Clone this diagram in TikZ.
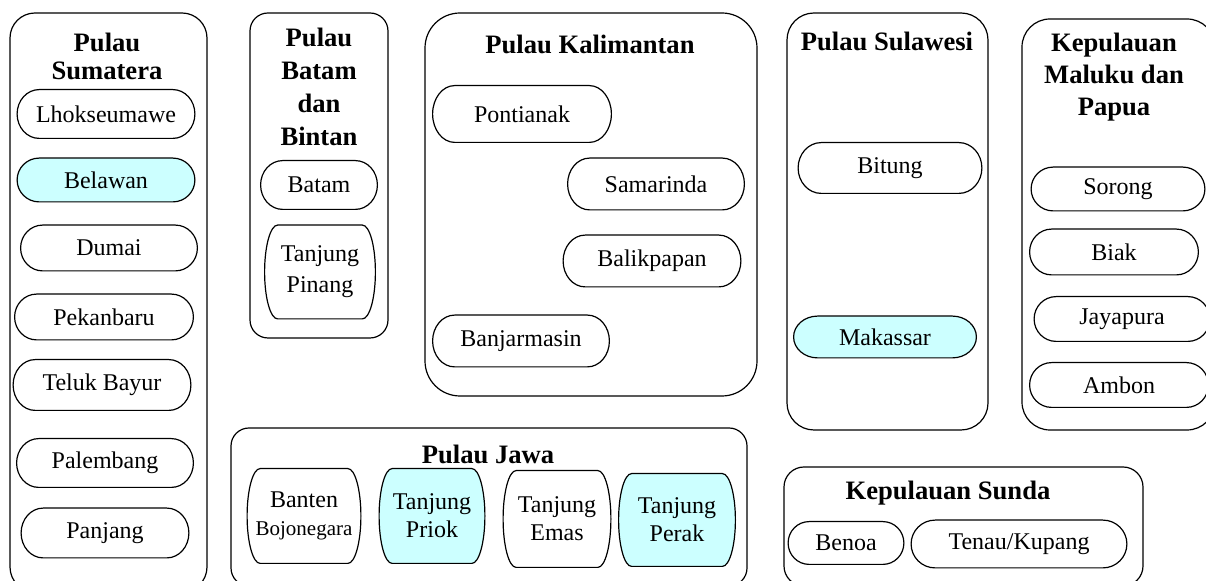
\documentclass[tikz,border=0pt]{standalone}
\usepackage{fontspec}
\setmainfont{Liberation Serif}
\usetikzlibrary{backgrounds,calc}
\definecolor{portcyan}{RGB}{204,255,255}

\tikzset{
	island/.style={draw, line width=0.6pt},
	port/.style={rectangle, inner sep=1pt, align=center, font=\fontsize{12}{14}\selectfont},
	psize/.style 2 args={minimum width=#1*0.5pt, minimum height=#2*0.5pt},
	rim/.style={line width=0.6pt},
	title/.style={font=\bfseries\fontsize{13.3}{16}\selectfont, align=center, inner sep=0pt},
}

\begin{document}
\begin{tikzpicture}[x=0.5pt, y=-0.5pt]
	\useasboundingbox (0,0) rectangle (1206,581);
	%% pulau (kotak besar)
	\draw[island, rounded corners=12.5pt] (10,13) rectangle (207,592);
	\draw[island, rounded corners=9pt] (250,13) rectangle (388,338);
	\draw[island, rounded corners=17.5pt] (425,13) rectangle (757,396);
	\draw[island, rounded corners=13.5pt] (787,13) rectangle (988,430);
	\draw[island, rounded corners=14pt] (1022,19) rectangle (1215,430);
	\draw[island, rounded corners=9pt] (231,428) rectangle (747,586);
	\draw[island, rounded corners=10pt] (784,467) rectangle (1143,586);
	%% sumatera
	\node[title, font=\bfseries\fontsize{13.3}{14}\selectfont] (s0) at (107,56) {Pulau\\Sumatera};
	\node[port, psize={177}{48}] (s1) at (106,114) {Lhokseumawe};
	\node[port, psize={177}{43}] (s2) at (106,180) {Belawan};
	\node[port, psize={176}{45}] (s3) at (109,248) {Dumai};
	\node[port, psize={178}{45}] (s4) at (104,317) {Pekanbaru};
	\node[port, psize={177}{50}] (s5) at (102,385) {Teluk Bayur};
	\node[port, psize={176}{48}] (s6) at (105,463) {Palembang};
	\node[port, psize={167}{49}] (s7) at (105,533) {Panjang};
	%% batam dan bintan
	\node[title, font=\bfseries\fontsize{13.3}{16.5}\selectfont] (b0) at (319,87) {Pulau\\Batam\\dan\\Bintan};
	\node[port, psize={116}{48}] (b1) at (319,185) {Batam};
	\node[port, psize={110}{93}, font=\fontsize{12}{15.5}\selectfont] (b2) at (320,272) {Tanjung\\Pinang};
	%% kalimantan
	\node[title] (k0) at (590,44) {Pulau Kalimantan};
	\node[port, psize={178}{56}] (k1) at (522,114) {Pontianak};
	\node[port, psize={176}{51}] (k2) at (656,184) {Samarinda};
	\node[port, psize={177}{51}] (k3) at (652,261) {Balikpapan};
	\node[port, psize={176}{51}] (k4) at (521,341) {Banjarmasin};
	%% sulawesi
	\node[title] (w0) at (887,41) {Pulau Sulawesi};
	\node[port, psize={183}{50}] (w1) at (890,168) {Bitung};
	\node[port, psize={182}{41}] (w2) at (885,337) {Makassar};
	%% maluku dan papua
	\node[title] (m0) at (1114,77) {Kepulauan\\Maluku dan\\Papua};
	\node[port, psize={173}{43}] (m1) at (1118,189) {Sorong};
	\node[port, psize={168}{45}] (m2) at (1114,252) {Biak};
	\node[port, psize={175}{44}] (m3) at (1122,319) {Jayapura};
	\node[port, psize={178}{44}] (m4) at (1119,385) {Ambon};
	%% jawa
	\node[title] (j0) at (488,454) {Pulau Jawa};
	\node[port, psize={113}{94}] (j1) at (304,516) {Banten\\{\fontsize{10.5}{13}\selectfont Bojonegara}};
	\node[port, psize={105}{94}] (j2) at (432,516) {Tanjung\\Priok};
	\node[port, psize={107}{96}] (j3) at (557,519) {Tanjung\\Emas};
	\node[port, psize={116}{92}] (j4) at (677,520) {Tanjung\\Perak};
	%% sunda
	\node[title] (n0) at (948,493) {Kepulauan Sunda};
	\node[port, psize={115}{42}] (n1) at (846,543) {Benoa};
	\node[port, psize={215}{47}] (n2) at (1019,544) {Tenau/Kupang};
	% bentuk pelabuhan (sisi melengkung)
	\begin{scope}[on background layer]
		\foreach \n/\c/\b in {s1/white/11pt, s2/portcyan/11pt, s3/white/11pt, s4/white/11pt,
			s5/white/11pt, s6/white/11pt, s7/white/11pt, b1/white/11pt, b2/white/6.5pt,
			k1/white/11pt, k2/white/11pt, k3/white/11pt, k4/white/11pt,
			w1/white/11.5pt, w2/portcyan/12pt, m1/white/11pt, m2/white/11pt, m3/white/11pt, m4/white/11pt,
			j1/white/6.5pt, j2/portcyan/6.5pt, j3/white/6.5pt, j4/portcyan/6.5pt,
			n1/white/10.5pt, n2/white/12pt}
		\filldraw[rim, fill=\c] ([xshift=\b]\n.north west) -- ([xshift=-\b]\n.north east)
			.. controls ([xshift=-0.448*\b]\n.north east) and ($(\n.east)!0.552!(\n.north east)$) .. (\n.east)
			.. controls ($(\n.east)!0.552!(\n.south east)$) and ([xshift=-0.448*\b]\n.south east) .. ([xshift=-\b]\n.south east)
			-- ([xshift=\b]\n.south west)
			.. controls ([xshift=0.448*\b]\n.south west) and ($(\n.west)!0.552!(\n.south west)$) .. (\n.west)
			.. controls ($(\n.west)!0.552!(\n.north west)$) and ([xshift=0.448*\b]\n.north west) .. cycle;
	\end{scope}
\end{tikzpicture}
\end{document}
